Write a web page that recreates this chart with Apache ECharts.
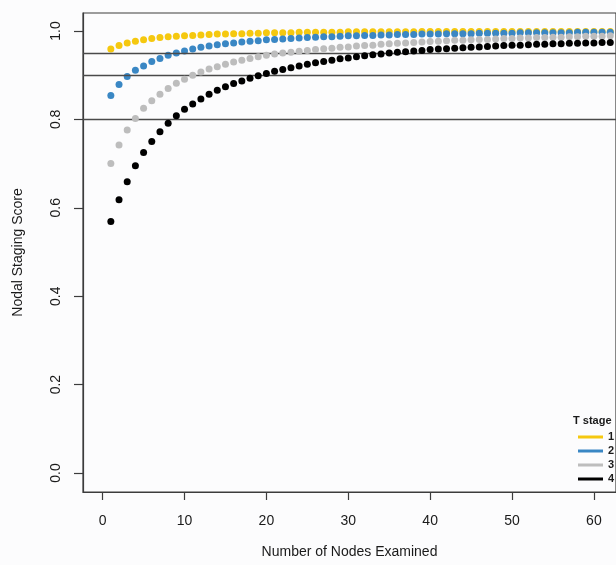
<!DOCTYPE html>
<html>
<head>
<meta charset="utf-8">
<script src="https://cdn.jsdelivr.net/npm/echarts@6/dist/echarts.min.js"></script>
<style>
  html, body { margin: 0; padding: 0; background: #fcfcfd; }
  #main { width: 616px; height: 565px; }
</style>
</head>
<body>
<div id="main"></div>
<script>
// nodes examined 1..62 (the plot is cut at the right edge)
var nodes = [];
for (var n = 1; n <= 62; n++) nodes.push(n);

var stageNames = ['1', '2', '3', '4'];
var stageColors = ['#f5c80f', '#3a87c4', '#bdbdbd', '#000000'];

var stage1 = [0.959, 0.967, 0.973, 0.977, 0.980, 0.983, 0.985, 0.987, 0.988, 0.989,
    0.990, 0.991, 0.992, 0.993, 0.993, 0.994, 0.994, 0.995, 0.995, 0.996,
    0.996, 0.996, 0.996, 0.997, 0.997, 0.997, 0.997, 0.997, 0.997, 0.998,
    0.998, 0.998, 0.998, 0.998, 0.998, 0.998, 0.998, 0.998, 0.999, 0.999,
    0.999, 0.999, 0.999, 0.999, 0.999, 0.999, 0.999, 0.999, 0.999, 0.999,
    0.999, 0.999, 0.999, 0.999, 0.999, 0.999, 0.999, 0.999, 0.999, 0.999,
    0.999, 0.999];
var stage2 = [0.854, 0.879, 0.897, 0.911, 0.921, 0.931, 0.938, 0.945, 0.950, 0.955,
    0.959, 0.963, 0.966, 0.969, 0.971, 0.973, 0.975, 0.977, 0.978, 0.980,
    0.981, 0.982, 0.983, 0.984, 0.985, 0.986, 0.987, 0.987, 0.988, 0.989,
    0.989, 0.990, 0.990, 0.991, 0.991, 0.992, 0.992, 0.992, 0.993, 0.993,
    0.993, 0.994, 0.994, 0.994, 0.994, 0.995, 0.995, 0.995, 0.995, 0.995,
    0.996, 0.996, 0.996, 0.996, 0.996, 0.996, 0.996, 0.997, 0.997, 0.997,
    0.997, 0.997];
var stage3 = [0.700, 0.742, 0.776, 0.802, 0.825, 0.842, 0.857, 0.870, 0.882, 0.891,
    0.900, 0.907, 0.914, 0.919, 0.925, 0.930, 0.934, 0.938, 0.942, 0.945,
    0.948, 0.950, 0.952, 0.954, 0.956, 0.958, 0.960, 0.961, 0.963, 0.964,
    0.966, 0.967, 0.968, 0.970, 0.971, 0.972, 0.973, 0.974, 0.975, 0.976,
    0.977, 0.978, 0.979, 0.979, 0.980, 0.981, 0.981, 0.982, 0.983, 0.983,
    0.984, 0.984, 0.985, 0.985, 0.986, 0.986, 0.987, 0.987, 0.988, 0.988,
    0.988, 0.989];
var stage4 = [0.569, 0.618, 0.659, 0.695, 0.725, 0.750, 0.772, 0.791, 0.808, 0.823,
    0.835, 0.846, 0.857, 0.866, 0.874, 0.881, 0.887, 0.893, 0.899, 0.904,
    0.909, 0.913, 0.917, 0.921, 0.925, 0.928, 0.931, 0.934, 0.937, 0.939,
    0.942, 0.944, 0.946, 0.948, 0.950, 0.952, 0.953, 0.955, 0.956, 0.958,
    0.959, 0.960, 0.961, 0.962, 0.963, 0.964, 0.965, 0.966, 0.967, 0.968,
    0.968, 0.969, 0.970, 0.970, 0.971, 0.971, 0.972, 0.972, 0.973, 0.973,
    0.974, 0.974];

var xTicks = [0, 10, 20, 30, 40, 50, 60];
var yTicks = [0, 0.2, 0.4, 0.6, 0.8, 1.0];
var refLines = [0.95, 0.9, 0.8];

var font = '"Liberation Sans", Arial, sans-serif';
var myChart = echarts.init(document.getElementById('main'));

function pairs(vals) {
    var out = [];
    for (var i = 0; i < vals.length; i++) out.push([nodes[i], vals[i]]);
    return out;
}

var allStages = [stage1, stage2, stage3, stage4];
var series = [];
for (var s = 0; s < allStages.length; s++) {
    series.push({
        name: stageNames[s],
        type: 'scatter',
        symbol: 'circle',
        symbolSize: 7,
        itemStyle: { color: stageColors[s], opacity: 1 },
        data: pairs(allStages[s]),
        z: 3 + s
    });
}
// reference lines
series.push({
    name: 'ref',
    type: 'line',
    data: [],
    markLine: {
        silent: true,
        symbol: 'none',
        label: { show: false },
        lineStyle: { color: '#4a4a4a', width: 1.4, type: 'solid' },
        data: refLines.map(function (v) { return { yAxis: v }; })
    }
});

var option = {
    animation: false,
    backgroundColor: '#fcfcfd',
    textStyle: { fontFamily: font },
    grid: {
        left: 83, top: 13, right: -5, bottom: 73,
        show: true, borderColor: '#3c3c3c', borderWidth: 1.2,
        backgroundColor: 'transparent'
    },
    legend: {
        data: stageNames,
        orient: 'vertical',
        left: 573,
        top: 426,
        icon: 'rect',
        itemWidth: 25,
        itemHeight: 3,
        itemGap: 2,
        textStyle: { fontFamily: font, fontSize: 11, fontWeight: 'bold', color: '#1a1a1a', lineHeight: 12 }
    },
    graphic: [{
        type: 'text',
        left: 573,
        top: 415,
        style: { text: 'T stage', font: 'bold 11px "Liberation Sans", Arial, sans-serif', fill: '#1a1a1a' }
    }],
    xAxis: {
        type: 'value',
        min: -2.4,
        max: 62.7,
        name: 'Number of Nodes Examined',
        nameLocation: 'middle',
        nameGap: 53,
        nameTextStyle: { fontSize: 14, color: '#1a1a1a', fontFamily: font },
        axisLine: { show: true, onZero: false, lineStyle: { color: '#3c3c3c', width: 1.2 } },
        axisTick: { show: true, length: 8, customValues: xTicks, lineStyle: { color: '#3c3c3c', width: 1.2 } },
        axisLabel: { customValues: xTicks, fontSize: 14, color: '#1a1a1a', margin: 22 },
        splitLine: { show: false }
    },
    yAxis: {
        type: 'value',
        min: -0.043,
        max: 1.0407,
        name: 'Nodal Staging Score',
        nameLocation: 'middle',
        nameRotate: 90,
        nameGap: 58,
        nameTextStyle: { fontSize: 14, color: '#1a1a1a', fontFamily: font },
        axisLine: { show: true, onZero: false, lineStyle: { color: '#3c3c3c', width: 1.2 } },
        axisTick: { show: true, length: 9, customValues: yTicks, lineStyle: { color: '#3c3c3c', width: 1.2 } },
        axisLabel: {
            customValues: yTicks, fontSize: 14, color: '#1a1a1a', margin: 20, rotate: 90,
            formatter: function (v) { return v.toFixed(1); }
        },
        splitLine: { show: false }
    },
    series: series
};

myChart.setOption(option);
</script>
</body>
</html>
